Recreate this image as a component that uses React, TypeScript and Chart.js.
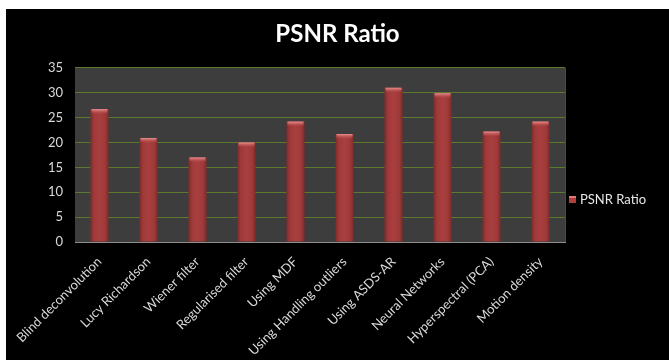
import React, { useEffect, useRef } from 'react';
import { Chart, registerables } from 'chart.js';

Chart.register(...registerables);

const chartTitle = 'PSNR Ratio';
const seriesLabel = 'PSNR Ratio';
const categories = [
  'Blind deconvolution',
  'Lucy Richardson',
  'Wiener filter',
  'Regularised filter',
  'Using MDF',
  'Using Handling outliers',
  'Using ASDS-AR',
  'Neural Networks',
  'Hyperspectral (PCA)',
  'Motion density',
];
const psnrValues = [26.7, 20.9, 17, 20, 24.2, 21.7, 31, 29.9, 22.2, 24.2];
const yMin = 0;
const yMax = 35;
const yStep = 5;

const FONT = 'Lato, "Open Sans", sans-serif';

const plotBgPlugin = {
  id: 'plotBg',
  beforeDraw(chart: any) {
    const { ctx, chartArea } = chart;
    if (!chartArea) return;
    ctx.save();
    ctx.fillStyle = '#3d3d3d';
    ctx.fillRect(chartArea.left, chartArea.top, chartArea.right - chartArea.left, chartArea.bottom - chartArea.top);
    ctx.strokeStyle = '#4a4a4a';
    ctx.lineWidth = 1;
    ctx.beginPath();
    ctx.moveTo(chartArea.right + 0.5, chartArea.top);
    ctx.lineTo(chartArea.right + 0.5, chartArea.bottom);
    ctx.stroke();
    ctx.restore();
  },
};

const sideLegendPlugin = {
  id: 'sideLegend',
  afterDraw(chart: any) {
    const { ctx, chartArea } = chart;
    const ds = chart.data.datasets[0];
    const x = chartArea.right + 4;
    const y = Math.round(chart.height * 0.545);
    ctx.save();
    ctx.fillStyle = '#b03f3f';
    ctx.fillRect(x, y - 4, 7, 7);
    ctx.fillStyle = '#e07a7a';
    ctx.fillRect(x, y - 4, 7, 2);
    ctx.fillStyle = '#e6e6e6';
    ctx.font = '13px ' + FONT;
    ctx.textAlign = 'left';
    ctx.textBaseline = 'middle';
    ctx.fillText(ds.label, x + 11, y);
    ctx.restore();
  },
};

const barTopPlugin = {
  id: 'barTop',
  afterDatasetsDraw(chart: any) {
    const { ctx } = chart;
    const meta = chart.getDatasetMeta(0);
    ctx.save();
    meta.data.forEach((bar: any) => {
      const w = bar.width;
      const left = bar.x - w / 2;
      if (!Number.isFinite(left) || !Number.isFinite(bar.y)) return;
      const g = ctx.createLinearGradient(0, bar.y, 0, bar.y + 5);
      g.addColorStop(0, 'rgba(240,150,150,0.95)');
      g.addColorStop(1, 'rgba(190,80,80,0)');
      ctx.fillStyle = g;
      ctx.fillRect(left + 1, bar.y, w - 2, 5);
    });
    ctx.restore();
  },
};

export default function App() {
  const canvasRef = useRef<HTMLCanvasElement | null>(null);

  useEffect(() => {
    const canvas = canvasRef.current;
    if (!canvas) return;
    const chart = new Chart(canvas, {
      type: 'bar',
      data: {
        labels: categories,
        datasets: [
          {
            label: seriesLabel,
            data: psnrValues,
            backgroundColor: (c: any) => {
              const ch = c.chart;
              const xs = ch.scales && ch.scales.x;
              if (!xs || c.dataIndex === undefined) return '#a33b3b';
              const cx = xs.getPixelForValue(c.dataIndex);
              if (!Number.isFinite(cx)) return '#a33b3b';
              const half = 9;
              const g = ch.ctx.createLinearGradient(cx - half, 0, cx + half, 0);
              g.addColorStop(0, '#7e2b2b');
              g.addColorStop(0.2, '#a03a3a');
              g.addColorStop(0.5, '#a93f3f');
              g.addColorStop(0.8, '#a03a3a');
              g.addColorStop(1, '#7e2b2b');
              return g;
            },
            borderWidth: 0,
            barPercentage: 0.37,
            categoryPercentage: 1,
          },
        ],
      },
      options: {
        responsive: false,
        animation: false,
        layout: { padding: 0 },
        plugins: {
          legend: { display: false },
          tooltip: { enabled: false },
          title: {
            display: true,
            text: chartTitle,
            color: '#ffffff',
            font: { family: FONT, size: 24, weight: 'bold' },
            padding: { top: 11, bottom: 19 },
          },
        },
        scales: {
          x: {
            grid: { display: false },
            border: { display: true, color: '#8c8c8c', width: 1 },
            ticks: {
              color: '#d9d9d9',
              font: { family: FONT, size: 13 },
              minRotation: 45,
              maxRotation: 45,
              autoSkip: false,
              padding: 4,
            },
            afterFit(scale: any) {
              scale.height = 118;
            },
          },
          y: {
            min: yMin,
            max: yMax,
            ticks: {
              stepSize: yStep,
              color: '#d9d9d9',
              font: { family: FONT, size: 13 },
              padding: 12,
            },
            grid: { color: '#5c7a2e', lineWidth: 1, drawTicks: false },
            border: { display: false },
            afterFit(scale: any) {
              scale.width = 69;
            },
          },
          legendSpace: {
            type: 'linear',
            position: 'right',
            display: true,
            grid: { display: false },
            border: { display: false },
            ticks: { display: false },
            afterFit(scale: any) {
              scale.width = 104;
            },
          },
        },
      },
      plugins: [plotBgPlugin, barTopPlugin, sideLegendPlugin],
    } as any);
    return () => chart.destroy();
  }, []);

  return (
    <div
      style={{
        position: 'absolute',
        left: 6,
        top: 9,
        width: 663,
        height: 351,
        background: '#000000',
      }}
    >
      <canvas ref={canvasRef} width={663} height={351} style={{ display: 'block' }} />
    </div>
  );
}
